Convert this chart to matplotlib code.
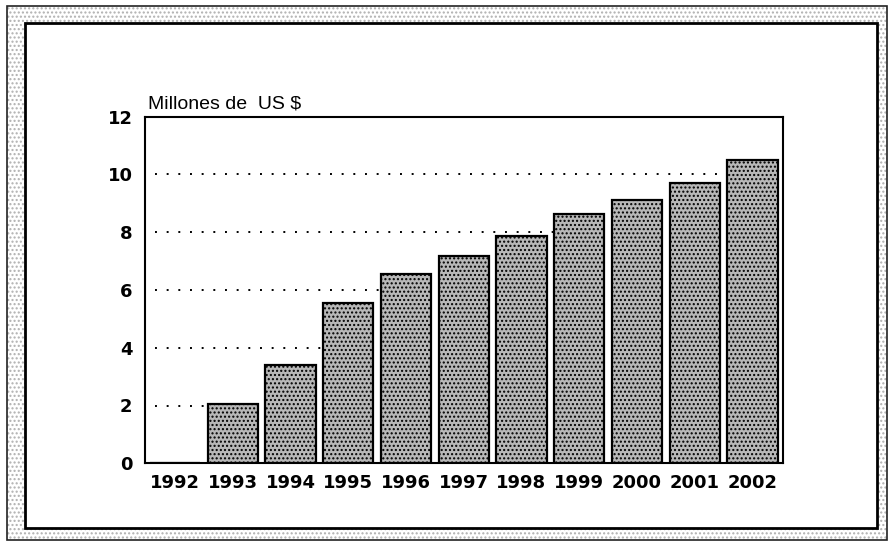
"""
Millones de US$ por año, 1992-2002 (barras con textura punteada)
"""

import matplotlib.pyplot as plt
from matplotlib.patches import Rectangle

plt.rcParams["font.family"] = ["Liberation Sans", "DejaVu Sans"]
plt.rcParams["hatch.linewidth"] = 1.0

# ─── Datos ────────────────────────────────────────────────────────
YEARS  = ["1992", "1993", "1994", "1995", "1996", "1997",
          "1998", "1999", "2000", "2001", "2002"]
VALUES = [0.0, 2.05, 3.40, 5.54, 6.55, 7.17, 7.86, 8.62, 9.10, 9.69, 10.50]
YTICKS = [0, 2, 4, 6, 8, 10, 12]
TITLE  = "Millones de  US $"

BAR_W = 0.87
W, H = 888, 545
fig = plt.figure(figsize=(W / 100, H / 100), dpi=100)

# ─── Marco exterior (banda punteada) e interior blanco ───────────
band = Rectangle((7 / W, 1 - 540 / H), 880 / W, 534 / H,
                 transform=fig.transFigure, facecolor="white",
                 edgecolor="#b0b0b0", linewidth=0, hatch="....",
                 zorder=-3)
fig.patches.append(band)
outline = Rectangle((7 / W, 1 - 540 / H), 880 / W, 534 / H,
                    transform=fig.transFigure, facecolor="none",
                    edgecolor="#222222", linewidth=1.2, zorder=-2)
fig.patches.append(outline)
inner = Rectangle((25 / W, 1 - 528 / H), 852 / W, 505 / H,
                  transform=fig.transFigure, facecolor="white",
                  edgecolor="black", linewidth=2.0, zorder=-1)
fig.patches.append(inner)

# ─── Ejes ─────────────────────────────────────────────────────────
ax = fig.add_axes([145 / W, 1 - 463.3 / H, 638 / W, 346.8 / H])
ax.set_zorder(2)
ax.patch.set_alpha(0)

x = list(range(len(YEARS)))
ax.bar(x, VALUES, width=BAR_W, facecolor="#b8b8b8", edgecolor="black",
       linewidth=1.6, hatch="....", zorder=3)

# líneas punteadas: desde el eje hasta la primera barra que las tapa
for t in YTICKS[1:-1]:
    first = next((i for i, v in enumerate(VALUES) if v >= t), len(VALUES))
    ax.hlines(t, -0.35, first - BAR_W / 2, color="black", linewidth=1.4,
              linestyle=(0, (1, 5)), zorder=2)

ax.set_xlim(-0.52, len(YEARS) - 0.47)
ax.set_ylim(0, 12)
tick_font = dict(family="DejaVu Sans", size=13, weight="bold")
ax.set_yticks(YTICKS)
ax.set_yticklabels([str(t) for t in YTICKS], fontdict=tick_font)
ax.set_xticks(x)
ax.set_xticklabels(YEARS, fontdict=tick_font)
ax.tick_params(length=0)
ax.tick_params(axis="y", pad=9)
ax.tick_params(axis="x", pad=8)

for s in ax.spines.values():
    s.set_linewidth(1.5)
    s.set_color("black")

fig.text(148 / W, 1 - 104 / H, TITLE, fontsize=14, ha="left", va="center",
         zorder=3)

fig.savefig("out.png", dpi=100)
